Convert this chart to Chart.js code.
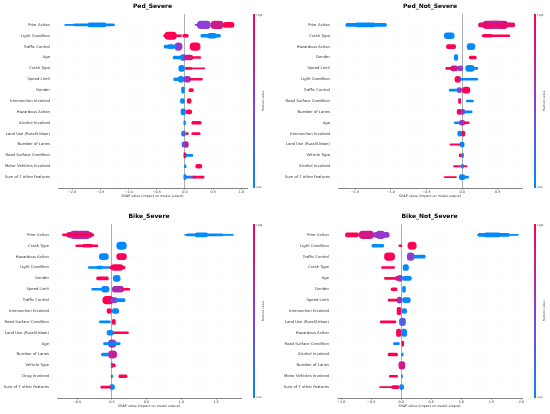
<!DOCTYPE html>
<html><head><meta charset="utf-8">
<script src="https://cdn.jsdelivr.net/npm/chart.js@4.4.0/dist/chart.umd.min.js"></script>
<style>
html,body{margin:0;padding:0;width:550px;height:414px;overflow:hidden;background:#fff}
.p{position:absolute;width:275px;height:207px}
</style></head><body>
<div class="p" style="left:0;top:0"><canvas id="c1"></canvas></div>
<div class="p" style="left:275px;top:0"><canvas id="c2"></canvas></div>
<div class="p" style="left:0;top:210px"><canvas id="c3"></canvas></div>
<div class="p" style="left:275px;top:210px"><canvas id="c4"></canvas></div>
<script>
// ---------- DATA ----------
// segments: [featureRow, shapFrom, shapTo, pointDensity, featureValue(0=low..1=high)]
const pedSevereFeatures = ["Prior Action","Light Condition","Traffic Control","Age","Crash Type","Speed Limit","Gender","Intersection Involved","Hazardous Action","Alcohol Involved","Land Use (Rural/Urban)","Number of Lanes","Road Surface Condition","Motor Vehicles Involved","Sum of 7 other features"];
const pedSevereTicks = [-2.0,-1.5,-1.0,-0.5,0.0,0.5,1.0];
const pedSevereSegments = [
 [0,-2.13,-1.25,1,0],[0,-1.97,-1.26,1.5,0],[0,-1.72,-1.4,2.5,0],
 [0,0.18,0.26,1,0.55],[0,0.22,0.45,4,0.5],[0,0.46,0.68,4,0.8],[0,0.68,0.87,3,1],
 [1,-0.38,-0.06,1.5,1],[1,-0.36,-0.15,4,1],[1,-0.04,0.06,2,1],[1,0.28,0.63,2,0],[1,0.4,0.56,3,0],
 [2,-0.37,-0.15,2,0],[2,-0.3,-0.2,2.5,0.1],[2,-0.18,-0.05,4,0.55],[2,0.09,0.27,4,1],
 [3,-0.21,-0.02,2,0],[3,-0.08,0.02,3.5,0.35],[3,-0.01,0.14,3,0.8],[3,0.12,0.28,1.5,1],
 [4,-0.11,-0.01,3.5,0],[4,0.0,0.35,1,1],[4,0.0,0.12,1.5,1],
 [5,-0.2,-0.02,2,0],[5,-0.12,-0.02,3.5,0],[5,-0.02,0.1,3.5,0.6],[5,0.08,0.31,1.5,1],
 [6,-0.06,-0.01,3.5,0],[6,0.07,0.15,2,1],
 [7,-0.08,-0.01,3,0],[7,0.04,0.11,3,1],
 [8,-0.07,0.01,3.5,0],[8,0.02,0.12,2.5,1],
 [9,-0.02,0.01,2.5,0],[9,0.12,0.29,2,1],
 [10,-0.06,0.01,3,0.15],[10,0.02,0.06,1.5,1],[10,0.12,0.27,1.5,1],
 [11,-0.05,0.0,3,0.3],[11,-0.02,0.06,3.5,0.8],
 [12,-0.02,0.02,3,1],[12,0.02,0.14,1.5,0],
 [13,-0.01,0.02,2,0],[13,0.19,0.3,2.5,1],
 [14,-0.02,0.02,3,0],[14,0.02,0.18,1.5,0.2],[14,0.14,0.34,1.5,1]
];

const pedNotSevereFeatures = ["Prior Action","Crash Type","Hazardous Action","Gender","Speed Limit","Light Condition","Traffic Control","Road Surface Condition","Number of Lanes","Age","Intersection Involved","Land Use (Rural/Urban)","Vehicle Type","Alcohol Involved","Sum of 7 other features"];
const pedNotSevereTicks = [-1.5,-1.0,-0.5,0.0,0.5];
const pedNotSevereSegments = [
 [0,-1.63,-1.06,2,0],[0,-1.5,-1.22,2.5,0],
 [0,0.23,0.74,2.5,0.9],[0,0.29,0.64,4,0.8],[0,0.38,0.55,4,0.62],
 [1,-0.25,-0.11,3.5,0],[1,0.28,0.67,1.5,1],[1,0.3,0.42,2,1],
 [2,-0.22,-0.09,2.5,1],[2,0.07,0.18,3.5,0],
 [3,-0.11,-0.06,3.5,0],[3,0.1,0.2,2,1],
 [4,-0.23,-0.14,1.5,1],[4,-0.16,-0.06,3,0.8],[4,-0.06,0.01,3,0.55],[4,0.05,0.17,3.5,0],[4,0.15,0.22,1.5,0],
 [5,-0.1,-0.02,3.5,1],[5,-0.03,0.22,1.5,0],
 [6,-0.18,-0.06,1.5,0],[6,-0.07,0.0,3,0.5],[6,0.0,0.11,3.5,1],
 [7,-0.05,-0.02,3,1],[7,0.06,0.16,1.5,0],
 [8,-0.07,0.0,3,1],[8,-0.02,0.04,3,0.6],[8,0.03,0.14,1.5,0],
 [9,-0.11,-0.03,1.5,0],[9,-0.04,0.04,3,0.6],[9,0.03,0.1,1.5,1],
 [10,-0.06,-0.01,3,0],[10,-0.01,0.04,3,1],
 [11,-0.17,-0.03,1,1],[11,-0.03,0.03,3,0],
 [12,-0.04,0.0,2,1],[12,0.0,0.02,2.5,0],
 [13,-0.12,-0.02,1,1],[13,-0.01,0.02,2.5,0],[13,0.02,0.07,1,1],
 [14,-0.25,-0.08,1,1],[14,-0.04,0.04,3,0],[14,0.03,0.09,1.5,0]
];

const bikeSevereFeatures = ["Prior Action","Crash Type","Hazardous Action","Light Condition","Gender","Speed Limit","Traffic Control","Intersection Involved","Road Surface Condition","Land Use (Rural/Urban)","Age","Number of Lanes","Vehicle Type","Drug Involved","Sum of 7 other features"];
const bikeSevereTicks = [-0.5,0.0,0.5,1.0,1.5];
const bikeSevereSegments = [
 [0,-0.71,-0.26,1.5,1],[0,-0.65,-0.28,3,0.75],[0,-0.6,-0.31,4,0.7],[0,-0.48,-0.38,3.5,0.5],
 [0,1.05,1.75,1,0],[0,1.08,1.6,1.5,0],[0,1.2,1.38,2.5,0],
 [1,-0.52,-0.2,1.5,1],[1,-0.42,-0.28,2,1],[1,0.07,0.21,4,0],
 [2,-0.18,-0.05,3.5,0],[2,0.07,0.21,3.5,1],
 [3,-0.34,-0.03,1.5,0],[3,-0.22,-0.13,2,0],[3,-0.03,0.19,2,1],[3,-0.01,0.16,3.5,0.9],
 [4,-0.22,-0.05,2,1],[4,0.02,0.12,3.5,0],
 [5,-0.29,-0.15,1.5,0],[5,-0.15,-0.04,3.5,0],[5,0.0,0.17,3.5,0.65],[5,0.15,0.26,1.5,1],
 [6,-0.13,0.02,4,1],[6,-0.02,0.08,3,0.55],[6,0.06,0.19,2,0],
 [7,-0.07,0.0,3,1],[7,0.0,0.1,3,0],
 [8,-0.18,-0.02,1.5,0],[8,0.0,0.05,3,1],
 [9,-0.07,0.02,3,0],[9,0.02,0.24,1.5,1],
 [10,-0.12,0.12,1.5,0],[10,-0.05,0.06,4,0.6],
 [11,-0.15,-0.04,2,0],[11,-0.05,0.07,4,0.75],
 [12,-0.01,0.01,3,0],[12,0.0,0.05,2,1],
 [13,-0.01,0.01,2,0],[13,0.1,0.22,2,1],
 [14,-0.16,-0.02,1.5,1],[14,-0.03,0.04,3,0]
];

const bikeNotSevereFeatures = ["Prior Action","Light Condition","Traffic Control","Crash Type","Age","Gender","Speed Limit","Intersection Involved","Land Use (Rural/Urban)","Hazardous Action","Road Surface Condition","Alcohol Involved","Number of Lanes","Motor Vehicles Involved","Sum of 7 other features"];
const bikeNotSevereTicks = [-1.0,-0.5,0.0,0.5,1.0,1.5,2.0];
const bikeNotSevereSegments = [
 [0,-0.93,-0.71,2.5,1],[0,-0.7,-0.46,4,0.8],[0,-0.46,-0.2,3,0.55],[0,-0.42,-0.27,4,0.55],
 [0,1.27,1.95,1,0],[0,1.28,1.8,2,0],[0,1.38,1.65,2.5,0],
 [1,-0.49,-0.29,2,0],[1,-0.04,0.01,1.5,1],[1,0.11,0.25,4,1],
 [2,-0.28,-0.11,4,1],[2,0.1,0.21,4,0.55],[2,0.2,0.4,2,0],
 [3,-0.33,-0.11,1.5,1],[3,0.03,0.12,3.5,0],
 [4,-0.28,-0.09,1.5,1],[4,-0.1,-0.03,2.5,0.8],[4,-0.06,0.02,3.5,0.5],[4,0.02,0.17,2.5,0],
 [5,-0.17,-0.07,2,1],[5,0.02,0.07,3.5,0],
 [6,-0.22,-0.06,1.5,1],[6,-0.07,0.01,3.5,0.6],[6,0.02,0.15,3,0],
 [7,-0.07,0.0,4,1],[7,0.01,0.09,3,0],
 [8,-0.35,-0.09,1.5,1],[8,-0.03,0.07,4,0.3],
 [9,-0.08,0.0,4,1],[9,0.0,0.09,4,0],
 [10,-0.13,-0.03,1.5,0],[10,0.01,0.04,3,1],
 [11,-0.22,-0.06,2,1],[11,0.0,0.03,2,0],
 [12,-0.04,0.06,4,0.8],
 [13,-0.2,-0.06,1.5,1],[13,0.0,0.02,2,0],
 [14,-0.36,-0.15,1,1],[14,-0.16,-0.04,2,1],[14,-0.03,0.04,3,0]
];

const xAxisTitle = "SHAP value (impact on model output)";
const colorbarHigh = "High";
const colorbarLow = "Low";
const colorbarTitle = "Feature value";

// ---------- STYLE / RENDER ----------
const FONT = "DejaVu Sans";
const THICK = {1:1.2, 1.5:2, 2:3, 2.5:4, 3:5, 3.5:6, 4:7.5};
const STOPS = [[0,[0,138,250]],[0.5,[138,63,214]],[1,[255,0,82]]];
function shapColor(v){
  v = Math.max(0, Math.min(1, v));
  for (let i=0;i<STOPS.length-1;i++){
    const [a,ca]=STOPS[i],[b,cb]=STOPS[i+1];
    if (v<=b){
      const t=(v-a)/(b-a);
      return 'rgb('+ca.map((c,k)=>Math.round(c+(cb[k]-c)*t)).join(',')+')';
    }
  }
  return 'rgb(255,0,82)';
}
const colorbarPlugin = {
  id:'colorbar',
  afterDraw(chart, args, opts){
    const {ctx, chartArea:{top,bottom}} = chart;
    const x = opts.x;
    const g = ctx.createLinearGradient(0,bottom,0,top);
    for (let i=0;i<=10;i++) g.addColorStop(i/10, shapColor(i/10));
    ctx.save();
    ctx.fillStyle = g;
    ctx.fillRect(x, top, 2, bottom-top);
    ctx.fillStyle = '#333';
    ctx.font = '2.6px "DejaVu Sans"';
    ctx.textBaseline = 'middle';
    ctx.textAlign = 'left';
    ctx.fillText(colorbarHigh, x+3.5, top+1);
    ctx.fillText(colorbarLow, x+3.5, bottom-0.5);
    ctx.translate(x+10, (top+bottom)/2);
    ctx.rotate(-Math.PI/2);
    ctx.textAlign = 'center';
    ctx.font = '3px "DejaVu Sans"';
    ctx.fillText(colorbarTitle, 0, 0);
    ctx.restore();
  }
};
const fmt = v => (v<0?'\u2212':'') + Math.abs(v).toFixed(1);

const panels = [
 {id:'c1', title:'Ped_Severe', features:pedSevereFeatures, segs:pedSevereSegments, ticks:pedSevereTicks, xMin:-2.25, xMax:1.1, left:58, right:247, cbX:253},
 {id:'c2', title:'Ped_Not_Severe', features:pedNotSevereFeatures, segs:pedNotSevereSegments, ticks:pedNotSevereTicks, xMin:-1.74, xMax:0.84, left:63, right:247, cbX:259},
 {id:'c3', title:'Bike_Severe', features:bikeSevereFeatures, segs:bikeSevereSegments, ticks:bikeSevereTicks, xMin:-0.79, xMax:1.86, left:57, right:241, cbX:253},
 {id:'c4', title:'Bike_Not_Severe', features:bikeNotSevereFeatures, segs:bikeNotSevereSegments, ticks:bikeNotSevereTicks, xMin:-1.07, xMax:2.01, left:62, right:247, cbX:259}
];

function makeChart(p){
  const levels = [...new Set(p.segs.map(s=>s[3]))].sort((a,b)=>a-b);
  const datasets = levels.map(d => ({
    data: p.segs.filter(s=>s[3]===d).map(s=>({y:s[0], x:[s[1],s[2]], c:s[4]})),
    backgroundColor: ctx => shapColor(ctx.raw ? ctx.raw.c : 0),
    borderWidth:0, borderSkipped:false, borderRadius:THICK[d]/2,
    maxBarThickness:THICK[d], barPercentage:1, categoryPercentage:1, grouped:false
  }));
  new Chart(document.getElementById(p.id), {
    type:'bar',
    data:{datasets},
    options:{
      indexAxis:'y', responsive:true, maintainAspectRatio:false, animation:false,
      layout:{padding:{left:0,right:275-p.right,top:0,bottom:0}},
      plugins:{
        legend:{display:false}, tooltip:{enabled:false},
        title:{display:true, text:p.title, fullSize:false, color:'#000',
               font:{family:FONT, size:6, weight:'bold'}, padding:{top:3,bottom:3.8}},
        colorbar:{x:p.cbX}
      },
      scales:{
        x:{type:'linear', min:p.xMin, max:p.xMax, offset:false,
          afterBuildTicks: s => { s.ticks = p.ticks.map(v=>({value:v})); },
          afterFit: s => { s.height = 19; },
          ticks:{callback: v => fmt(v), font:{family:FONT, size:3.4}, color:'#333', padding:0.5, maxRotation:0, autoSkip:false},
          grid:{color: c => (c.tick && Math.abs(c.tick.value)<1e-9) ? '#999' : 'rgba(0,0,0,0)', lineWidth:0.8,
                tickLength:1.5, tickColor:'#333', tickWidth:0.6, offset:false},
          border:{display:true, color:'#333', width:0.6},
          title:{display:true, text:xAxisTitle, font:{family:FONT, size:3.3}, color:'#333', padding:{top:0,bottom:8.5}}
        },
        y:{type:'linear', min:-1, max:15, reverse:true, offset:false,
          afterBuildTicks: s => { s.ticks = p.features.map((f,i)=>({value:i})); },
          afterFit: s => { s.width = p.left; },
          ticks:{callback: v => p.features[v], font:{family:FONT, size:3.8}, color:'#333', padding:8, autoSkip:false},
          grid:{color:'#e4e4e4', lineWidth:0.5, drawTicks:false, offset:false},
          border:{display:false, dash:[1,4]}
        }
      }
    },
    plugins:[colorbarPlugin]
  });
}
panels.forEach(makeChart);
</script>
</body></html>
